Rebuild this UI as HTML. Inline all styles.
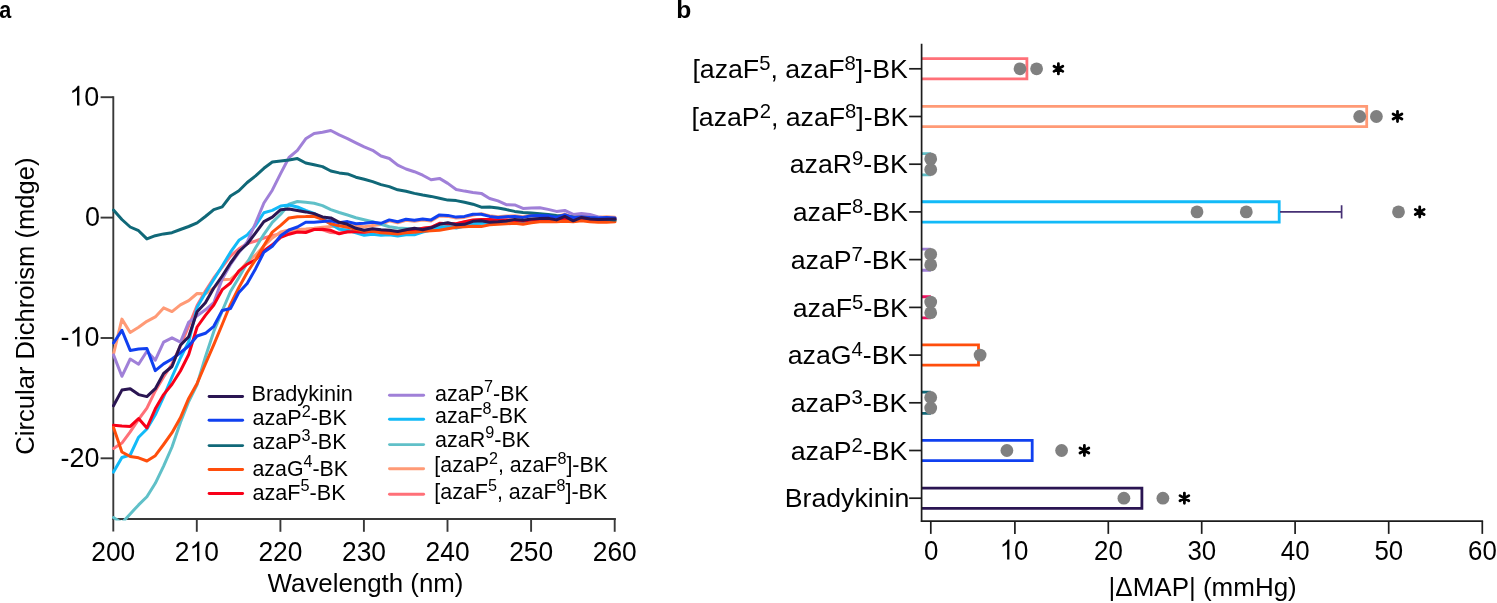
<!DOCTYPE html>
<html><head><meta charset="utf-8"><title>Figure</title>
<style>html,body{margin:0;padding:0;background:#fff}svg{display:block}text{font-family:"Liberation Sans",sans-serif;fill:#000}</style>
</head><body>
<svg width="1497" height="603" viewBox="0 0 1497 603">
<rect width="1497" height="603" fill="#fff"/>
<defs><clipPath id="cpa"><rect x="100" y="80" width="530" height="440.6"/></clipPath></defs>
<g stroke="#383838" stroke-width="1.9" fill="none">
<path d="M113.3 96.3V531.6"/>
<path d="M112.35 519.0H615.9"/>
<path d="M100.6 97.2H113.3"/>
<path d="M100.6 217.6H113.3"/>
<path d="M100.6 338.0H113.3"/>
<path d="M100.6 458.3H113.3"/>
<path d="M196.8 519.0V531.8"/>
<path d="M280.4 519.0V531.8"/>
<path d="M363.9 519.0V531.8"/>
<path d="M447.5 519.0V531.8"/>
<path d="M531.1 519.0V531.8"/>
<path d="M614.7 519.0V531.8"/>
</g>
<g clip-path="url(#cpa)" fill="none" stroke-width="3.0" stroke-linejoin="round" stroke-linecap="round">
<polyline stroke="#ff7078" points="113.5,448.4 121.9,443.1 130.2,431.9 138.6,419.3 146.9,408.1 155.3,390.9 163.6,377.0 172.0,364.0 180.4,346.0 188.7,326.0 197.1,305.5 205.4,291.0 213.8,278.0 222.2,267.0 230.5,256.0 238.9,248.8 247.2,243.6 255.6,241.0 263.9,238.0 272.3,235.8 280.7,233.6 289.0,232.0 297.4,230.5 305.7,230.0 314.1,229.3 322.5,229.8 330.8,232.5 339.2,233.0 347.5,232.0 355.9,231.5 364.2,232.0 372.6,231.0 381.0,231.0 389.3,231.5 397.7,232.0 406.0,230.5 414.4,230.0 422.7,228.5 431.1,227.5 439.5,224.0 447.8,224.0 456.2,224.0 464.5,222.0 472.9,220.5 481.3,220.0 489.6,220.0 498.0,220.0 506.3,220.0 514.7,220.0 523.0,220.5 531.4,220.0 539.8,219.5 548.1,219.5 556.5,220.0 564.8,219.0 573.2,220.0 581.5,219.5 589.9,219.5 598.3,220.0 606.6,219.5 615.0,219.5"/>
<polyline stroke="#ff9a76" points="113.5,354.2 121.9,319.1 130.2,332.5 138.6,327.3 146.9,321.3 155.3,316.9 163.6,307.9 172.0,311.6 180.4,304.9 188.7,300.6 197.1,293.5 205.4,293.8 213.8,288.0 222.2,279.7 230.5,279.3 238.9,272.0 247.2,262.0 255.6,255.0 263.9,246.0 272.3,238.0 280.7,232.0 289.0,230.0 297.4,229.5 305.7,229.0 314.1,228.3 322.5,227.3 330.8,226.5 339.2,226.0 347.5,225.0 355.9,226.0 364.2,226.8 372.6,225.5 381.0,224.5 389.3,220.9 397.7,222.8 406.0,220.2 414.4,221.3 422.7,220.1 431.1,220.9 439.5,215.9 447.8,216.4 456.2,218.1 464.5,217.4 472.9,215.2 481.3,213.6 489.6,215.8 498.0,216.8 506.3,216.1 514.7,215.8 523.0,216.8 531.4,215.1 539.8,214.8 548.1,215.1 556.5,216.8 564.8,214.1 573.2,217.1 581.5,216.1 589.9,216.8 598.3,217.3 606.6,216.8 615.0,217.3"/>
<polyline stroke="#60c0c8" points="113.5,517.6 121.9,523.0 130.2,513.9 138.6,504.9 146.9,496.7 155.3,483.3 163.6,466.1 172.0,447.0 180.4,422.5 188.7,401.5 197.1,384.5 205.4,357.0 213.8,331.5 222.2,311.0 230.5,291.5 238.9,277.5 247.2,262.7 255.6,247.8 263.9,234.3 272.3,222.4 280.7,214.2 289.0,204.2 297.4,201.5 305.7,202.2 314.1,203.2 322.5,205.6 330.8,209.6 339.2,212.5 347.5,215.0 355.9,217.7 364.2,219.7 372.6,221.7 381.0,224.3 389.3,226.7 397.7,228.0 406.0,228.5 414.4,229.0 422.7,228.5 431.1,228.0 439.5,227.0 447.8,226.0 456.2,225.5 464.5,225.0 472.9,224.0 481.3,223.5 489.6,223.0 498.0,222.5 506.3,222.0 514.7,221.5 523.0,221.5 531.4,221.0 539.8,220.5 548.1,220.5 556.5,220.5 564.8,220.0 573.2,220.5 581.5,220.0 589.9,220.5 598.3,220.5 606.6,220.5 615.0,220.5"/>
<polyline stroke="#12baf8" points="113.5,472.1 121.9,457.5 130.2,455.0 138.6,437.2 146.9,429.0 155.3,414.8 163.6,396.9 172.0,377.0 180.4,358.0 188.7,341.6 197.1,307.3 205.4,293.0 213.8,279.5 222.2,266.0 230.5,252.2 238.9,240.3 247.2,235.0 255.6,225.4 263.9,212.7 272.3,210.4 280.7,206.0 289.0,205.0 297.4,207.0 305.7,210.5 314.1,213.3 322.5,218.4 330.8,224.0 339.2,229.3 347.5,230.0 355.9,232.8 364.2,235.3 372.6,234.3 381.0,235.3 389.3,234.8 397.7,236.0 406.0,234.8 414.4,234.8 422.7,232.0 431.1,230.0 439.5,227.8 447.8,226.8 456.2,228.0 464.5,226.0 472.9,223.8 481.3,223.0 489.6,223.0 498.0,222.5 506.3,222.0 514.7,221.5 523.0,222.0 531.4,221.0 539.8,220.5 548.1,220.5 556.5,221.0 564.8,220.0 573.2,221.0 581.5,220.0 589.9,220.5 598.3,221.0 606.6,220.5 615.0,220.5"/>
<polyline stroke="#a080d8" points="113.5,354.9 121.9,376.3 130.2,359.0 138.6,364.2 146.9,351.2 155.3,360.1 163.6,342.2 172.0,337.8 180.4,342.2 188.7,322.1 197.1,315.8 205.4,309.8 213.8,302.7 222.2,279.0 230.5,264.5 238.9,252.5 247.2,242.0 255.6,223.0 263.9,203.0 272.3,190.2 280.7,173.4 289.0,157.5 297.4,150.3 305.7,138.8 314.1,133.5 322.5,132.3 330.8,130.5 339.2,134.9 347.5,138.6 355.9,142.8 364.2,146.8 372.6,150.3 381.0,156.0 389.3,158.5 397.7,165.2 406.0,169.0 414.4,171.7 422.7,175.2 431.1,179.7 439.5,178.4 447.8,183.4 456.2,189.5 464.5,191.1 472.9,192.5 481.3,193.4 489.6,198.5 498.0,200.9 506.3,204.7 514.7,204.9 523.0,208.4 531.4,207.9 539.8,207.7 548.1,209.4 556.5,211.4 564.8,210.4 573.2,214.4 581.5,213.4 589.9,214.4 598.3,216.9 606.6,217.9 615.0,218.4"/>
<polyline stroke="#f80018" points="113.5,425.2 121.9,426.0 130.2,426.4 138.6,418.5 146.9,427.9 155.3,408.8 163.6,394.6 172.0,384.2 180.4,371.0 188.7,354.5 197.1,327.0 205.4,315.4 213.8,305.0 222.2,289.7 230.5,283.0 238.9,270.8 247.2,264.2 255.6,259.7 263.9,250.7 272.3,244.8 280.7,237.3 289.0,234.2 297.4,232.0 305.7,232.5 314.1,229.5 322.5,229.3 330.8,230.3 339.2,233.8 347.5,231.8 355.9,231.8 364.2,232.3 372.6,231.3 381.0,231.0 389.3,231.8 397.7,232.8 406.0,230.8 414.4,230.3 422.7,228.3 431.1,227.3 439.5,223.3 447.8,223.8 456.2,223.8 464.5,221.8 472.9,219.9 481.3,219.4 489.6,219.4 498.0,219.9 506.3,219.9 514.7,220.5 523.0,221.0 531.4,220.0 539.8,219.5 548.1,219.5 556.5,220.0 564.8,219.0 573.2,220.0 581.5,219.0 589.9,219.5 598.3,220.0 606.6,219.5 615.0,219.5"/>
<polyline stroke="#ff4e0c" points="113.5,427.5 121.9,452.0 130.2,456.5 138.6,457.8 146.9,461.0 155.3,455.7 163.6,444.5 172.0,432.7 180.4,417.8 188.7,398.4 197.1,383.4 205.4,364.0 213.8,344.6 222.2,324.5 230.5,304.3 238.9,287.5 247.2,272.5 255.6,259.7 263.9,245.5 272.3,232.1 280.7,225.4 289.0,217.9 297.4,216.7 305.7,216.6 314.1,216.3 322.5,219.4 330.8,223.8 339.2,225.8 347.5,227.3 355.9,229.3 364.2,231.3 372.6,231.3 381.0,232.8 389.3,233.3 397.7,234.0 406.0,232.8 414.4,232.3 422.7,231.3 431.1,230.8 439.5,230.3 447.8,228.8 456.2,227.3 464.5,226.8 472.9,226.3 481.3,226.6 489.6,224.8 498.0,224.3 506.3,223.8 514.7,223.3 523.0,224.3 531.4,222.8 539.8,221.8 548.1,221.8 556.5,221.8 564.8,221.3 573.2,221.8 581.5,220.8 589.9,221.8 598.3,222.3 606.6,222.3 615.0,221.8"/>
<polyline stroke="#106878" points="113.5,210.0 121.9,219.5 130.2,227.0 138.6,230.7 146.9,238.9 155.3,235.7 163.6,233.9 172.0,232.7 180.4,229.5 188.7,226.5 197.1,222.9 205.4,216.5 213.8,209.6 222.2,206.8 230.5,196.0 238.9,190.8 247.2,182.5 255.6,175.8 263.9,168.3 272.3,162.0 280.7,161.0 289.0,160.0 297.4,158.6 305.7,163.0 314.1,164.8 322.5,166.6 330.8,171.0 339.2,172.9 347.5,173.9 355.9,177.2 364.2,179.2 372.6,181.6 381.0,184.6 389.3,186.6 397.7,189.8 406.0,191.2 414.4,193.4 422.7,195.0 431.1,196.4 439.5,198.2 447.8,200.1 456.2,200.6 464.5,202.2 472.9,204.2 481.3,207.2 489.6,206.9 498.0,208.1 506.3,209.6 514.7,211.4 523.0,212.4 531.4,213.1 539.8,213.7 548.1,214.4 556.5,215.4 564.8,216.0 573.2,217.0 581.5,217.5 589.9,218.0 598.3,218.5 606.6,219.3 615.0,219.9"/>
<polyline stroke="#1040f0" points="113.5,343.0 121.9,330.3 130.2,350.4 138.6,349.0 146.9,348.5 155.3,370.6 163.6,363.9 172.0,359.0 180.4,352.7 188.7,346.0 197.1,336.0 205.4,333.3 213.8,326.3 222.2,310.5 230.5,308.5 238.9,292.4 247.2,283.5 255.6,268.7 263.9,252.2 272.3,246.3 280.7,235.8 289.0,230.0 297.4,227.0 305.7,222.3 314.1,222.2 322.5,221.6 330.8,220.8 339.2,222.8 347.5,221.6 355.9,223.8 364.2,223.3 372.6,222.3 381.0,223.3 389.3,219.9 397.7,221.8 406.0,219.2 414.4,220.3 422.7,219.1 431.1,219.9 439.5,214.9 447.8,215.4 456.2,217.1 464.5,216.4 472.9,214.2 481.3,214.2 489.6,216.4 498.0,217.4 506.3,216.7 514.7,216.4 523.0,217.4 531.4,215.7 539.8,215.4 548.1,215.7 556.5,217.4 564.8,214.7 573.2,217.7 581.5,216.7 589.9,217.4 598.3,217.9 606.6,217.4 615.0,217.9"/>
<polyline stroke="#2a1552" points="113.5,405.8 121.9,390.1 130.2,388.7 138.6,394.6 146.9,396.6 155.3,388.7 163.6,373.5 172.0,366.5 180.4,345.2 188.7,336.8 197.1,311.7 205.4,302.8 213.8,288.0 222.2,276.0 230.5,263.0 238.9,251.5 247.2,244.0 255.6,232.8 263.9,221.6 272.3,217.2 280.7,209.7 289.0,209.0 297.4,210.5 305.7,211.9 314.1,213.6 322.5,216.9 330.8,217.9 339.2,222.3 347.5,224.3 355.9,228.3 364.2,230.3 372.6,228.8 381.0,229.8 389.3,230.3 397.7,231.5 406.0,229.8 414.4,228.3 422.7,229.8 431.1,227.8 439.5,224.3 447.8,222.8 456.2,224.8 464.5,224.3 472.9,221.3 481.3,220.8 489.6,222.3 498.0,221.8 506.3,221.0 514.7,219.4 523.0,220.3 531.4,218.9 539.8,218.4 548.1,218.2 556.5,219.9 564.8,216.4 573.2,220.8 581.5,217.4 589.9,218.9 598.3,219.4 606.6,219.2 615.0,218.9"/>
</g>
<path d="M209.1 396.5H242.6" stroke="#2a1552" stroke-width="2.9" stroke-linecap="round"/>
<path d="M209.1 420.2H242.6" stroke="#1040f0" stroke-width="2.9" stroke-linecap="round"/>
<path d="M209.1 445.6H242.6" stroke="#106878" stroke-width="2.9" stroke-linecap="round"/>
<path d="M209.1 469.5H242.6" stroke="#ff4e0c" stroke-width="2.9" stroke-linecap="round"/>
<path d="M209.1 493.5H242.6" stroke="#f80018" stroke-width="2.9" stroke-linecap="round"/>
<path d="M389.5 395.3H423.6" stroke="#a080d8" stroke-width="2.9" stroke-linecap="round"/>
<path d="M389.5 419.2H423.6" stroke="#12baf8" stroke-width="2.9" stroke-linecap="round"/>
<path d="M389.5 444.6H423.6" stroke="#60c0c8" stroke-width="2.9" stroke-linecap="round"/>
<path d="M389.5 468.7H423.6" stroke="#ff9a76" stroke-width="2.9" stroke-linecap="round"/>
<path d="M389.5 494.2H423.6" stroke="#ff7078" stroke-width="2.9" stroke-linecap="round"/>
<path d="M921.6 58.60H1026.9V78.90H921.6" fill="none" stroke="#ff7078" stroke-width="2.8"/>
<path d="M921.6 106.32H1366.7V126.62H921.6" fill="none" stroke="#ff9a76" stroke-width="2.8"/>
<path d="M921.6 153.59H929.5V174.79H921.6" fill="none" stroke="#60c0c8" stroke-width="2.8"/>
<path d="M921.6 201.76H1279.2V222.06H921.6" fill="none" stroke="#12baf8" stroke-width="2.8"/>
<path d="M921.6 249.03H929.5V270.23H921.6" fill="none" stroke="#a080d8" stroke-width="2.8"/>
<path d="M921.6 296.75H929.5V317.95H921.6" fill="none" stroke="#f01060" stroke-width="2.8"/>
<path d="M921.6 344.92H978.5V365.22H921.6" fill="none" stroke="#ff4e0c" stroke-width="2.8"/>
<path d="M921.6 392.19H929.5V413.39H921.6" fill="none" stroke="#106878" stroke-width="2.8"/>
<path d="M921.6 440.36H1032.2V460.66H921.6" fill="none" stroke="#1040f0" stroke-width="2.8"/>
<path d="M921.6 488.08H1141.9V508.38H921.6" fill="none" stroke="#2a1552" stroke-width="2.8"/>
<path d="M1280 211.9H1341.6M1341.6 205.3V218.5" stroke="#463074" stroke-width="1.7" fill="none"/>
<g stroke="#1c1c1c" stroke-width="1.7" fill="none">
<path d="M921.6 43.7V522"/>
<path d="M920.85 521.2H1483.1"/>
<path d="M909.1 68.8H921.6"/>
<path d="M909.1 116.5H921.6"/>
<path d="M909.1 164.2H921.6"/>
<path d="M909.1 211.9H921.6"/>
<path d="M909.1 259.6H921.6"/>
<path d="M909.1 307.4H921.6"/>
<path d="M909.1 355.1H921.6"/>
<path d="M909.1 402.8H921.6"/>
<path d="M909.1 450.5H921.6"/>
<path d="M909.1 498.2H921.6"/>
<path d="M930.8 521.2V533.9"/>
<path d="M1014.9 521.2V533.9"/>
<path d="M1108.3 521.2V533.9"/>
<path d="M1201.7 521.2V533.9"/>
<path d="M1295.1 521.2V533.9"/>
<path d="M1388.7 521.2V533.9"/>
<path d="M1482.3 521.2V533.9"/>
</g>
<circle cx="1020.0" cy="68.8" r="6.4" fill="#808080"/>
<circle cx="1036.6" cy="68.8" r="6.4" fill="#808080"/>
<g transform="translate(1058.4,68.8)" stroke="#000" stroke-width="2.8" stroke-linecap="round"><path d="M0 -5.1V5.1M-4.42 -2.55L4.42 2.55M-4.42 2.55L4.42 -2.55"/></g>
<circle cx="1359.7" cy="116.5" r="6.4" fill="#808080"/>
<circle cx="1376.4" cy="116.5" r="6.4" fill="#808080"/>
<g transform="translate(1397.5,116.5)" stroke="#000" stroke-width="2.8" stroke-linecap="round"><path d="M0 -5.1V5.1M-4.42 -2.55L4.42 2.55M-4.42 2.55L4.42 -2.55"/></g>
<circle cx="930.7" cy="158.9" r="6.4" fill="#808080"/><circle cx="930.7" cy="169.5" r="6.4" fill="#808080"/>
<circle cx="1197.0" cy="211.9" r="6.4" fill="#808080"/>
<circle cx="1246.3" cy="211.9" r="6.4" fill="#808080"/>
<circle cx="1398.5" cy="211.9" r="6.4" fill="#808080"/>
<g transform="translate(1419.7,211.9)" stroke="#000" stroke-width="2.8" stroke-linecap="round"><path d="M0 -5.1V5.1M-4.42 -2.55L4.42 2.55M-4.42 2.55L4.42 -2.55"/></g>
<circle cx="930.7" cy="254.3" r="6.4" fill="#808080"/><circle cx="930.7" cy="264.9" r="6.4" fill="#808080"/>
<circle cx="930.7" cy="302.1" r="6.4" fill="#808080"/><circle cx="930.7" cy="312.7" r="6.4" fill="#808080"/>
<circle cx="980.1" cy="355.1" r="6.4" fill="#808080"/>
<circle cx="930.7" cy="397.5" r="6.4" fill="#808080"/><circle cx="930.7" cy="408.1" r="6.4" fill="#808080"/>
<circle cx="1006.9" cy="450.5" r="6.4" fill="#808080"/>
<circle cx="1061.6" cy="450.5" r="6.4" fill="#808080"/>
<g transform="translate(1084.4,450.5)" stroke="#000" stroke-width="2.8" stroke-linecap="round"><path d="M0 -5.1V5.1M-4.42 -2.55L4.42 2.55M-4.42 2.55L4.42 -2.55"/></g>
<circle cx="1123.9" cy="498.2" r="6.4" fill="#808080"/>
<circle cx="1162.9" cy="498.2" r="6.4" fill="#808080"/>
<g transform="translate(1184.4,498.2)" stroke="#000" stroke-width="2.8" stroke-linecap="round"><path d="M0 -5.1V5.1M-4.42 -2.55L4.42 2.55M-4.42 2.55L4.42 -2.55"/></g>
<g opacity="0.999">
<g transform="translate(-0.70,17.7) scale(0.9000,1)"><text font-size="24" font-weight="bold">a</text></g>
<g transform="translate(676.35,17.7) scale(1.0250,1)"><text font-size="24" font-weight="bold">b</text></g>
<g transform="translate(69.33,105.60000000000001) scale(0.9789,1)"><path transform="translate(0.00,0) scale(0.013428,-0.013428)" d="M763 0H583V1147Q518 1085 412.5 1023Q307 961 223 930V1104Q374 1175 487 1276Q600 1377 647 1472H763Z" fill="#000"/><text font-size="27.5"><tspan x="15.30">0</tspan></text></g>
<g transform="translate(84.99,226.0) scale(0.9789,1)"><text font-size="27.5">0</text></g>
<g transform="translate(60.52,346.4) scale(0.9789,1)"><text font-size="27.5"><tspan x="0.00">-</tspan></text><path transform="translate(9.16,0) scale(0.013428,-0.013428)" d="M763 0H583V1147Q518 1085 412.5 1023Q307 961 223 930V1104Q374 1175 487 1276Q600 1377 647 1472H763Z" fill="#000"/><text font-size="27.5"><tspan x="24.45">0</tspan></text></g>
<g transform="translate(60.52,466.7) scale(0.9789,1)"><text font-size="27.5">-20</text></g>
<g transform="translate(91.24,561.3) scale(0.9591,1)"><text font-size="27.5">200</text></g>
<g transform="translate(174.82,561.3) scale(0.9591,1)"><text font-size="27.5"><tspan x="0.00">2</tspan></text><path transform="translate(15.30,0) scale(0.013428,-0.013428)" d="M763 0H583V1147Q518 1085 412.5 1023Q307 961 223 930V1104Q374 1175 487 1276Q600 1377 647 1472H763Z" fill="#000"/><text font-size="27.5"><tspan x="30.59">0</tspan></text></g>
<g transform="translate(258.40,561.3) scale(0.9591,1)"><text font-size="27.5">220</text></g>
<g transform="translate(341.98,561.3) scale(0.9591,1)"><text font-size="27.5">230</text></g>
<g transform="translate(425.56,561.3) scale(0.9591,1)"><text font-size="27.5">240</text></g>
<g transform="translate(509.14,561.3) scale(0.9591,1)"><text font-size="27.5">250</text></g>
<g transform="translate(592.72,561.3) scale(0.9591,1)"><text font-size="27.5">260</text></g>
<g transform="translate(267.60,591.9) scale(0.9873,1)"><text font-size="26.2">Wavelength (nm)</text></g>
<g transform="translate(34.4,454.66) rotate(-90) scale(0.9621,1)"><text font-size="26.6">Circular Dichroism (mdge)</text></g>
<g transform="translate(251.48,401.4) scale(1.0103,1)"><text font-size="21.5">Bradykinin</text></g>
<g transform="translate(252.49,425.2) scale(1.0065,1)"><text font-size="21.5">azaP<tspan dy="-8.7" font-size="16.2">2</tspan><tspan dy="8.7" font-size="21.5">-BK</tspan></text></g>
<g transform="translate(252.50,449.4) scale(1.0022,1)"><text font-size="21.5">azaP<tspan dy="-8.7" font-size="16.2">3</tspan><tspan dy="8.7" font-size="21.5">-BK</tspan></text></g>
<g transform="translate(252.51,475.5) scale(0.9926,1)"><text font-size="21.5">azaG<tspan dy="-8.7" font-size="16.2">4</tspan><tspan dy="8.7" font-size="21.5">-BK</tspan></text></g>
<g transform="translate(252.49,500.1) scale(1.0055,1)"><text font-size="21.5">azaF<tspan dy="-8.7" font-size="16.2">5</tspan><tspan dy="8.7" font-size="21.5">-BK</tspan></text></g>
<g transform="translate(435.00,401.1) scale(1.0000,1)"><text font-size="21.5">azaP<tspan dy="-8.7" font-size="16.2">7</tspan><tspan dy="8.7" font-size="21.5">-BK</tspan></text></g>
<g transform="translate(435.00,422.6) scale(0.9956,1)"><text font-size="21.5">azaF<tspan dy="-8.7" font-size="16.2">8</tspan><tspan dy="8.7" font-size="21.5">-BK</tspan></text></g>
<g transform="translate(435.00,447.0) scale(1.0011,1)"><text font-size="21.5">azaR<tspan dy="-8.7" font-size="16.2">9</tspan><tspan dy="8.7" font-size="21.5">-BK</tspan></text></g>
<g transform="translate(434.31,472.4) scale(0.9953,1)"><text font-size="21.5">[azaP<tspan dy="-8.7" font-size="16.2">2</tspan><tspan dy="8.7" font-size="21.5">, azaF</tspan><tspan dy="-8.7" font-size="16.2">8</tspan><tspan dy="8.7" font-size="21.5">]-BK</tspan></text></g>
<g transform="translate(434.30,499.4) scale(0.9977,1)"><text font-size="21.5">[azaF<tspan dy="-8.7" font-size="16.2">5</tspan><tspan dy="8.7" font-size="21.5">, azaF</tspan><tspan dy="-8.7" font-size="16.2">8</tspan><tspan dy="8.7" font-size="21.5">]-BK</tspan></text></g>
<g transform="translate(692.39,77.95) scale(1.0038,1)"><text font-size="26.6">[azaF<tspan dy="-7.9" font-size="20.2">5</tspan><tspan dy="7.9" font-size="26.6">, azaF</tspan><tspan dy="-7.9" font-size="20.2">8</tspan><tspan dy="7.9" font-size="26.6">]-BK</tspan></text></g>
<g transform="translate(691.39,125.67) scale(1.0038,1)"><text font-size="26.6">[azaP<tspan dy="-7.9" font-size="20.2">2</tspan><tspan dy="7.9" font-size="26.6">, azaF</tspan><tspan dy="-7.9" font-size="20.2">8</tspan><tspan dy="7.9" font-size="26.6">]-BK</tspan></text></g>
<g transform="translate(789.76,173.39) scale(1.0038,1)"><text font-size="26.6">azaR<tspan dy="-7.9" font-size="20.2">9</tspan><tspan dy="7.9" font-size="26.6">-BK</tspan></text></g>
<g transform="translate(792.77,221.10999999999999) scale(1.0038,1)"><text font-size="26.6">azaF<tspan dy="-7.9" font-size="20.2">8</tspan><tspan dy="7.9" font-size="26.6">-BK</tspan></text></g>
<g transform="translate(790.76,268.83) scale(1.0038,1)"><text font-size="26.6">azaP<tspan dy="-7.9" font-size="20.2">7</tspan><tspan dy="7.9" font-size="26.6">-BK</tspan></text></g>
<g transform="translate(792.77,316.55) scale(1.0038,1)"><text font-size="26.6">azaF<tspan dy="-7.9" font-size="20.2">5</tspan><tspan dy="7.9" font-size="26.6">-BK</tspan></text></g>
<g transform="translate(787.75,364.27) scale(1.0038,1)"><text font-size="26.6">azaG<tspan dy="-7.9" font-size="20.2">4</tspan><tspan dy="7.9" font-size="26.6">-BK</tspan></text></g>
<g transform="translate(790.76,411.98999999999995) scale(1.0038,1)"><text font-size="26.6">azaP<tspan dy="-7.9" font-size="20.2">3</tspan><tspan dy="7.9" font-size="26.6">-BK</tspan></text></g>
<g transform="translate(790.76,459.71) scale(1.0038,1)"><text font-size="26.6">azaP<tspan dy="-7.9" font-size="20.2">2</tspan><tspan dy="7.9" font-size="26.6">-BK</tspan></text></g>
<g transform="translate(784.74,507.43) scale(1.0038,1)"><text font-size="26.6">Bradykinin</text></g>
<g transform="translate(924.02,559.5) scale(0.9310,1)"><text font-size="27.8">0</text></g>
<g transform="translate(999.74,559.5) scale(0.9310,1)"><path transform="translate(0.00,0) scale(0.013574,-0.013574)" d="M763 0H583V1147Q518 1085 412.5 1023Q307 961 223 930V1104Q374 1175 487 1276Q600 1377 647 1472H763Z" fill="#000"/><text font-size="27.8"><tspan x="15.46">0</tspan></text></g>
<g transform="translate(1094.07,559.5) scale(0.9310,1)"><text font-size="27.8">20</text></g>
<g transform="translate(1187.47,559.5) scale(0.9310,1)"><text font-size="27.8">30</text></g>
<g transform="translate(1280.87,559.5) scale(0.9310,1)"><text font-size="27.8">40</text></g>
<g transform="translate(1374.47,559.5) scale(0.9310,1)"><text font-size="27.8">50</text></g>
<g transform="translate(1468.07,559.5) scale(0.9310,1)"><text font-size="27.8">60</text></g>
<g transform="translate(1108.62,595.8) scale(0.9919,1)"><text font-size="26.2">|ΔMAP| (mmHg)</text></g>
</g>
</svg></body></html>
